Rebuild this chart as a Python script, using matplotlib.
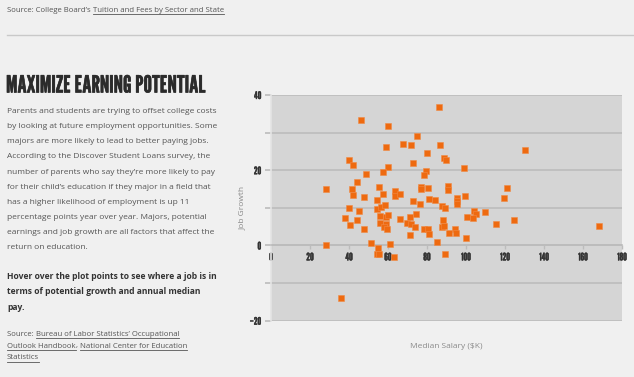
import matplotlib
matplotlib.use("Agg")
import matplotlib.pyplot as plt
from matplotlib.lines import Line2D
import matplotlib.patheffects as pe

# ---- data (median salary in $K, job growth in %) ----
salary = [45.9, 60.2, 86.1, 74.7, 58.9, 67.6, 72.0, 86.8, 79.8, 88.5,
          89.9, 72.7, 99.1, 59.9, 57.6, 39.9, 42.2, 48.6, 79.4, 78.4,
          130.2, 43.9, 28.3, 41.6, 42.2, 47.8, 55.6, 57.6, 54.2, 63.4,
          63.4, 65.9, 76.9, 77.0, 80.7, 72.6, 76.6, 80.9, 83.9, 90.8,
          90.8, 95.3, 95.3, 95.3, 99.7, 120.8, 119.3, 39.9, 44.9, 54.6,
          56.6, 58.3, 87.6, 89.3, 103.9, 105.1, 103.5, 100.5, 109.6, 38.2,
          40.3, 44.2, 47.6, 56.0, 59.0, 60.0, 56.0, 59.1, 57.7, 59.6,
          66.4, 69.5, 71.1, 71.9, 74.3, 74.1, 78.7, 80.5, 80.8, 71.4,
          88.3, 87.8, 88.9, 94.2, 94.9, 91.5, 100.1, 115.5, 124.8, 168.0,
          28.3, 51.5, 61.2, 85.0, 54.8, 54.2, 55.6, 63.0, 89.3, 36.1]
growth = [33.3, 31.7, 36.7, 29.1, 26.2, 27.1, 26.8, 26.7, 24.5, 23.3,
          22.8, 21.9, 20.5, 20.8, 19.6, 22.8, 21.3, 19.0, 19.7, 18.6,
          25.5, 17.0, 14.9, 15.1, 13.4, 12.8, 15.5, 13.8, 12.0, 14.5,
          13.1, 13.7, 15.5, 15.0, 15.2, 11.7, 11.0, 12.3, 12.0, 15.8,
          14.7, 12.7, 11.8, 11.1, 13.2, 15.3, 12.7, 10.0, 9.2, 9.6,
          10.3, 10.7, 10.4, 10.0, 9.2, 8.3, 7.4, 7.5, 8.8, 7.2,
          5.5, 6.7, 4.5, 7.9, 7.6, 8.2, 6.0, 5.7, 4.8, 4.4,
          7.0, 6.1, 7.7, 5.6, 8.3, 4.8, 4.5, 4.5, 3.0, 2.8,
          6.9, 4.8, 5.2, 4.5, 3.2, 3.4, 2.0, 5.8, 6.7, 5.3,
          0.0, 0.6, 0.4, 0.9, -0.8, -2.4, -2.4, -3.0, -2.4, -13.9]

x_ticks = [0, 20, 40, 60, 80, 100, 120, 140, 160, 180]
y_ticks = [-20, 0, 20, 40]
y_minor = [-10, 10, 30]

BG = '#f0f0f0'
PLOT_BG = '#d5d5d5'
GRID = '#bcbcbc'
ORANGE = '#ee6a10'
GOTHIC = ['League Gothic', 'DejaVu Sans']
BODY = ['Open Sans', 'DejaVu Sans']

fig = plt.figure(figsize=(6.34, 3.77), dpi=100, facecolor=BG)

# ---- scatter axes ----
ax = fig.add_axes([271 / 634, 1 - 320.7 / 377, 351 / 634, 225.7 / 377])
ax.set_facecolor(PLOT_BG)
ax.scatter(salary, growth, marker='s', s=20, color=ORANGE,
           edgecolors='#f08a45', linewidths=0.4, zorder=5)
ax.set_xlim(0, 180)
ax.set_ylim(-20, 40)

for s in ['top', 'right']:
    ax.spines[s].set_visible(False)
ax.spines['left'].set_color('#e4e4e4')
ax.spines['left'].set_linewidth(1.2)
ax.spines['bottom'].set_position(('data', 0))
ax.spines['bottom'].set_color(GRID)
ax.spines['bottom'].set_linewidth(1.2)

ax.set_yticks(y_ticks)
ax.set_yticks(y_minor, minor=True)
ax.set_xticks(x_ticks)
ax.grid(axis='y', which='both', color=GRID, lw=1.2, zorder=1)
ax.set_axisbelow(True)
ax.tick_params(axis='y', which='both', length=4, width=1.2, color=GRID, pad=3)
ax.tick_params(axis='x', length=3, width=1, color=GRID, pad=2)
bolden = [pe.withStroke(linewidth=0.25, foreground='#333333')]
for lab in ax.get_xticklabels() + ax.get_yticklabels():
    lab.set_fontfamily(GOTHIC)
    lab.set_fontsize(7.5)
    lab.set_color('#333333')
    lab.set_path_effects(bolden)

ax.set_ylabel('Job Growth', fontsize=6, color='#8a8a8a', family=BODY)
ax.yaxis.set_label_coords(-0.07, 0.5)
fig.text(446.5 / 634, 1 - 347 / 377, 'Median Salary ($K)', fontsize=6, color='#8a8a8a',
         family=BODY, ha='center', va='center')

# ---- page text ----
fig.add_artist(Line2D([7 / 634, 1], [1 - 35 / 377] * 2, color='#c9c9c9', lw=1))

renderer = fig.canvas.get_renderer()


def underline(t, color):
    bb = t.get_window_extent(renderer)
    y = bb.y0 - 0.5
    fig.add_artist(Line2D([bb.x0 / 634, bb.x1 / 634], [y / 377] * 2, color=color, lw=0.6))


def px(x, y):
    return x / 634, 1 - y / 377


t0 = fig.text(*px(7, 10), 'Source: College Board\u2019s ', fontsize=5.6, color='#555555',
              family=BODY, va='center')
bb = t0.get_window_extent(renderer)
t1 = fig.text(bb.x1 / 634, 1 - 10 / 377, 'Tuition and Fees by Sector and State', fontsize=5.6,
              color='#555555', family=BODY, va='center')
underline(t1, '#555555')

fig.text(*px(6, 86), 'MAXIMIZE EARNING POTENTIAL', fontsize=17,
         color='#2b2b2b', family=GOTHIC, va='center',
         path_effects=[pe.withStroke(linewidth=0.4, foreground='#2b2b2b')])

body = ["Parents and students are trying to offset college costs",
        "by looking at future employment opportunities. Some",
        "majors are more likely to lead to better paying jobs.",
        "According to the Discover Student Loans survey, the",
        "number of parents who say they\u2019re more likely to pay",
        "for their child\u2019s education if they major in a field that",
        "has a higher likelihood of employment is up 11",
        "percentage points year over year. Majors, potential",
        "earnings and job growth are all factors that affect the",
        "return on education."]
for i, line in enumerate(body):
    fig.text(*px(7, 111.7 + 15.1 * i), line, fontsize=6.0, color='#555555',
             family=BODY, va='center')

bold = ["Hover over the plot points to see where a job is in",
        "terms of potential growth and annual median",
        "pay."]
for i, line in enumerate(bold):
    fig.text(*px(7, 276.7 + 15.2 * i), line, fontsize=6.1, color='#333333',
             family=BODY, fontweight='bold', va='center')

s0 = fig.text(*px(7, 334), 'Source: ', fontsize=5.6, color='#555555', family=BODY, va='center')
bb = s0.get_window_extent(renderer)
t = fig.text(bb.x1 / 634, 1 - 334 / 377, 'Bureau of Labor Statistics\u2019 Occupational',
             fontsize=5.6, color='#555555', family=BODY, va='center')
underline(t, '#555555')
t = fig.text(*px(7, 346), 'Outlook Handbook', fontsize=5.6, color='#555555', family=BODY,
             va='center')
underline(t, '#555555')
b2 = t.get_window_extent(renderer)
c = fig.text(b2.x1 / 634, 1 - 346 / 377, ', ', fontsize=5.6, color='#555555', family=BODY,
             va='center')
b3 = c.get_window_extent(renderer)
t = fig.text(b3.x1 / 634, 1 - 346 / 377, 'National Center for Education', fontsize=5.6,
             color='#555555', family=BODY, va='center')
underline(t, '#555555')
t = fig.text(*px(7, 357.5), 'Statistics', fontsize=5.6, color='#555555', family=BODY,
             va='center')
underline(t, '#555555')

fig.savefig('out.png', dpi=100, facecolor=BG)
